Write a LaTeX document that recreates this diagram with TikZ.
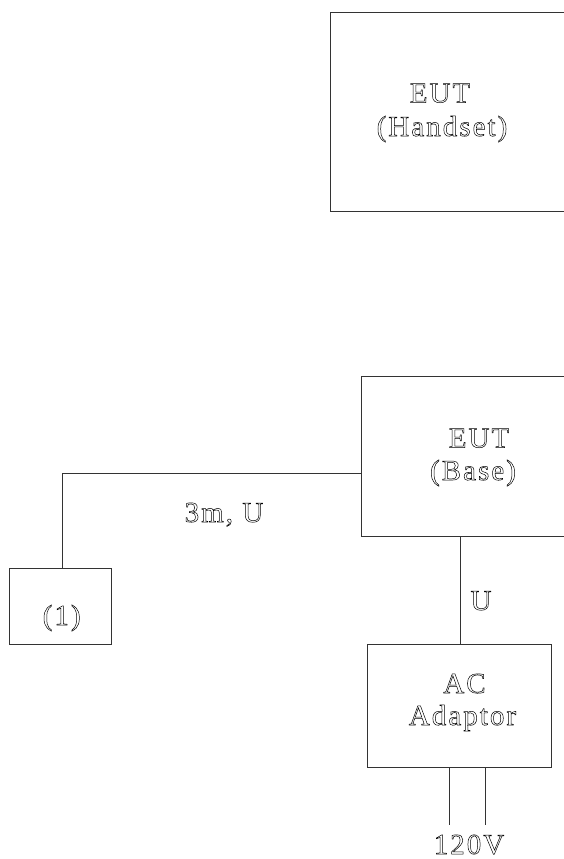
\documentclass[tikz,border=0pt]{standalone}
\usepackage{fontspec}
\setmainfont{Liberation Serif}[LetterSpace=7]
\tikzset{
  box/.style={draw=black!80, line width=0.8pt, inner sep=0pt, rectangle},
  wire/.style={draw=black!80, line width=0.8pt},
  lbl/.style={anchor=base, inner sep=0pt, line width=0.5pt,
    font=\fontsize{29}{25}\selectfont,
    execute at begin node={\special{pdf:literal direct 1 Tr}},
    execute at end node={\special{pdf:literal direct 0 Tr}}}
}
\begin{document}
\begin{tikzpicture}[x=1pt,y=-1pt]
\useasboundingbox (0,0) rectangle (564,859);
\clip (0,0) rectangle (564,859);
% boxes
\node[box, minimum width=236pt, minimum height=199pt] (hs) at (448,112) {};
\node[box, minimum width=205pt, minimum height=160pt] (base) at (463.5,456) {};
\node[box, minimum width=102pt, minimum height=76pt] (one) at (60.5,606) {};
\node[box, minimum width=184pt, minimum height=123pt] (ad) at (459,705.5) {};
% labels
\node[lbl] (t1) at (440,102.5) {EUT};
\node[lbl] (t2) at (442,136) {(Handset)};
\node[lbl] (t3) at (479,447.5) {EUT};
\node[lbl] (t4) at (473,480) {(Base)};
\node[lbl] (t5) at (224,522) {3m, U};
\node[lbl] (t6) at (61.7,625) {(1)};
\node[lbl] (t7) at (481,610) {U};
\node[lbl] (t8) at (464.5,693) {AC};
\node[lbl] (t9) at (462.5,725) {Adaptor};
\node[lbl] (t10) at (469,854) {120V};
% connectors
\coordinate (bend) at (62,473);
\draw[wire] (base.west |- bend) -- (bend) -- (bend |- one.north);
\coordinate (vx) at (460.7,0);
\draw[wire] (vx |- base.south) -- (vx |- ad.north);
\coordinate (p1) at (449,825);
\coordinate (p2) at (485,825);
\draw[wire] (p1 |- ad.south) -- (p1);
\draw[wire] (p2 |- ad.south) -- (p2);
\end{tikzpicture}
\end{document}
